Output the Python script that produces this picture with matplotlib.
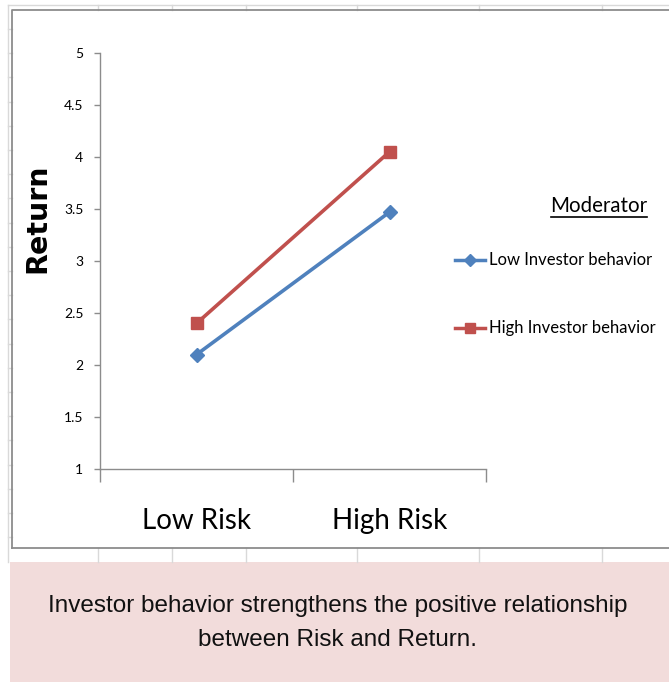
import matplotlib
matplotlib.use("Agg")
import matplotlib.pyplot as plt
from matplotlib.patches import Rectangle

# ---------------------------------------------------------------------------
# Data
# ---------------------------------------------------------------------------
categories = ["Low Risk", "High Risk"]
low_investor = [2.10, 3.47]
high_investor = [2.40, 4.05]
series_names = ["Low Investor behavior", "High Investor behavior"]
y_ticks = [1, 1.5, 2, 2.5, 3, 3.5, 4, 4.5, 5]
y_ticklabels = ["1", "1.5", "2", "2.5", "3", "3.5", "4", "4.5", "5"]
caption_lines = ["Investor behavior strengthens the positive relationship",
                 "between Risk and Return."]

BLUE = "#4F81BD"
RED = "#C0504D"
GRID = "#d9d9d9"
BORDER = "#8c8c8c"
PINK = "#f2dcdb"

W, H = 669, 682
fig = plt.figure(figsize=(W / 100, H / 100), dpi=100)

# background layer in pixel coordinates (spreadsheet cells, chart frame, caption box)
bg = fig.add_axes([0, 0, 1, 1])
bg.set_xlim(0, W)
bg.set_ylim(H, 0)
bg.axis("off")

# spreadsheet gridlines around the chart object
bg.plot([8, W], [5, 5], color=GRID, lw=1)
bg.plot([8, 8], [5, 562], color=GRID, lw=1)
for x in [98, 172, 246, 357, 479, 602]:
    bg.plot([x, x], [5, 10], color=GRID, lw=1)
    bg.plot([x, x], [548, 562], color=GRID, lw=1)
row = 29.0
while row < 560:
    bg.plot([8, 12], [row, row], color=GRID, lw=1)
    row += 24.2

# chart frame
bg.plot([12, 12, W + 2], [548, 10, 10], color=BORDER, lw=1.3)
bg.plot([12, W + 2], [548, 548], color=BORDER, lw=1.3)

# caption box
bg.add_patch(Rectangle((10, 562), W - 10, H - 562, facecolor=PINK, edgecolor="none"))
for y, line in zip([606, 640], caption_lines):
    bg.text(338, y, line, ha="center", va="center", fontsize=17.5,
            family=["Liberation Sans Narrow", "Liberation Sans"], color="#111111")

# y label
bg.text(37, 218, "Return", rotation=90, ha="center", va="center",
        fontsize=20.5, fontweight="bold", family="DejaVu Sans")

# legend (manual, to match the Excel layout)
bg.text(599, 206, "Moderator", ha="center", va="center", fontsize=14.8, family="Lato")
bg.plot([551, 647], [217, 217], color="black", lw=1.2)
for y, color, marker, ms, name in [(260, BLUE, "D", 6, series_names[0]),
                                    (328, RED, "s", 7, series_names[1])]:
    bg.plot([455, 485], [y, y], color=color, lw=2.5)
    bg.plot([470], [y], color=color, marker=marker, ms=ms, lw=0)
    bg.text(489, y, name, ha="left", va="center", fontsize=12, family="Lato")

# ---------------------------------------------------------------------------
# Main plot
# ---------------------------------------------------------------------------
ax = fig.add_axes([100 / W, (H - 469) / H, 386 / W, 416 / H])
ax.set_facecolor("none")
xs = [1, 2]
ax.plot(xs, low_investor, color=BLUE, lw=2.6, marker="D", ms=7, label=series_names[0])
ax.plot(xs, high_investor, color=RED, lw=2.6, marker="s", ms=8.5, label=series_names[1])

ax.set_xlim(0.5, 2.5)
ax.set_ylim(1, 5)
for side in ["top", "right"]:
    ax.spines[side].set_visible(False)
for side in ["left", "bottom"]:
    ax.spines[side].set_color(BORDER)
    ax.spines[side].set_linewidth(1.0)

ax.set_yticks(y_ticks)
ax.set_yticklabels(y_ticklabels, fontsize=10, family="Lato")
ax.tick_params(axis="y", direction="out", length=4, width=1, color=BORDER, pad=8)

ax.set_xticks([0.5, 1.5, 2.5])
ax.set_xticklabels([])
ax.tick_params(axis="x", which="major", direction="out", length=9, width=1, color=BORDER)
ax.set_xticks(xs, minor=True)
ax.set_xticklabels(categories, minor=True, fontsize=20, family="Lato")
ax.tick_params(axis="x", which="minor", length=0, pad=28)

fig.savefig("out.png", dpi=100)
